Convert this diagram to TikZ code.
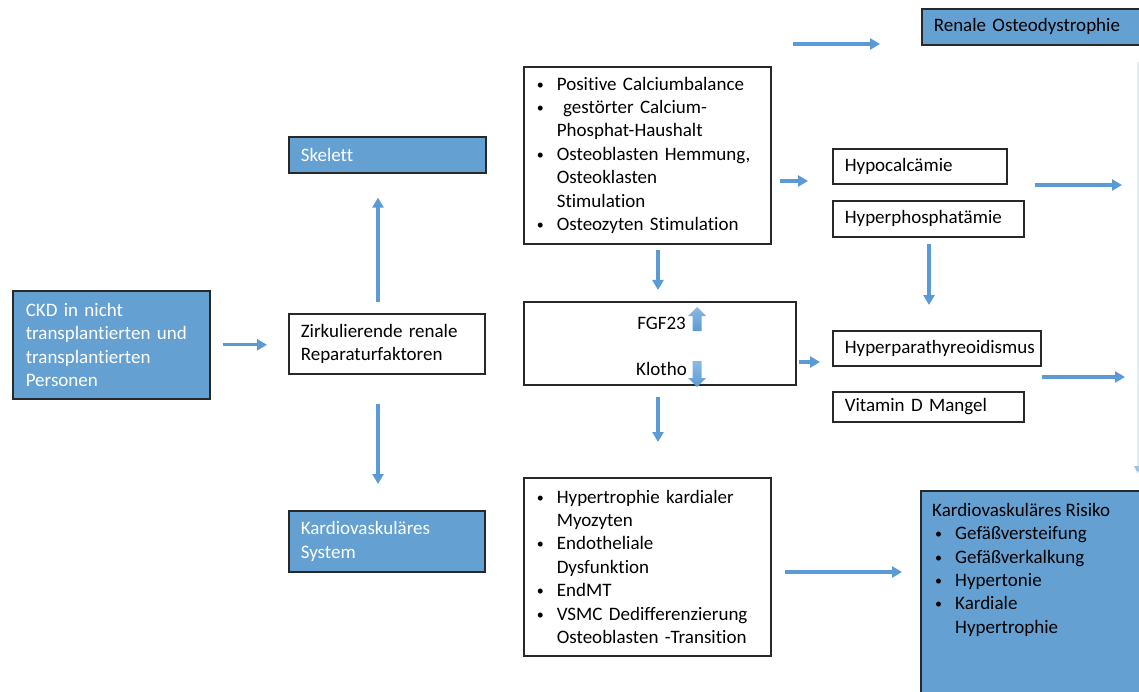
\documentclass[tikz,border=0pt]{standalone}
\usepackage{fontspec}
\setmainfont{Carlito}[Ligatures=NoCommon]
\usetikzlibrary{arrows.meta}

\definecolor{boxblue}{RGB}{100,161,210}
\definecolor{arrowblue}{RGB}{91,155,213}
\definecolor{boxline}{RGB}{40,40,40}
\definecolor{edgegray}{RGB}{232,237,242}

\newcommand{\bul}{\makebox[20pt][l]{\raisebox{1pt}{\fontsize{14}{14}\selectfont\textbullet}}}
\newcommand{\cont}{\hspace*{20pt}}

\tikzset{
  box/.style={draw=boxline, line width=1.6pt, anchor=north west, align=left,
    inner xsep=12pt, inner ysep=0pt, font=\fontsize{19}{23.4}\selectfont},
  bluebox/.style={box, fill=boxblue},
  whitebox/.style={box, fill=white},
  flow/.style={draw=arrowblue, line width=3.2pt, -{Triangle[length=10pt, width=11pt]}},
  updown/.style={top color=arrowblue!70, bottom color=arrowblue, draw=none},
}

\begin{document}
\begin{tikzpicture}[x=1pt, y=-1pt]
    \clip (0,0) rectangle (1139,692);
    \fill[white] (0,0) rectangle (1139,692);

    % left column
    \node[bluebox, text=white, text width=171pt, inner xsep=13pt, minimum height=108pt] (ckd) at (12,290) {CKD in nicht\\ transplantierten und\\ transplantierten\\ Personen};
    \node[bluebox, text=white, text width=173pt, minimum height=36pt] (skelett) at (288,136) {Skelett};
    \node[whitebox, text width=172pt, minimum height=60pt] (zirk) at (288,313) {Zirkulierende renale\\ Reparaturfaktoren};
    \node[bluebox, text=white, text width=172pt, minimum height=61pt] (kardio) at (288,510) {Kardiovaskuläres\\ System};

    % middle column
    \node[whitebox, text width=221pt, inner xsep=13pt, minimum height=177pt] (calc) at (523,66) {
        \bul Positive Calciumbalance\\
        \bul \ gestörter Calcium-\\
        \cont Phosphat-Haushalt\\
        \bul Osteoblasten Hemmung,\\
        \cont Osteoklasten\\
        \cont Stimulation\\
        \bul Osteozyten Stimulation};
    \node[whitebox, minimum width=272pt, minimum height=83pt] (fgf) at (523,301) {};
    \node[anchor=east, inner sep=0pt, font=\fontsize{19}{23.4}\selectfont] (fgflabel) at (686,323) {FGF23};
    \node[anchor=east, inner sep=0pt, font=\fontsize{19}{23.4}\selectfont] (klotho) at (687,369) {Klotho};
    \shade[updown] (697,307) -- (706,316) -- (701.5,316) -- (701.5,331) -- (692.5,331) -- (692.5,316) -- (688,316) -- cycle;
    \shade[updown] (697,387) -- (706,378) -- (701.5,378) -- (701.5,361) -- (692.5,361) -- (692.5,378) -- (688,378) -- cycle;
    \node[whitebox, text width=221pt, inner xsep=13pt, minimum height=178pt] (cardio) at (523,477) {
        \bul Hypertrophie kardialer\\
        \cont Myozyten\\
        \bul Endotheliale\\
        \cont Dysfunktion\\
        \bul EndMT\\
        \bul VSMC Dedifferenzierung\\
        \cont Osteoblasten -Transition};

    % right column
    \node[bluebox, text width=216pt, minimum height=36pt] (renal) at (921,8) {Renale Osteodystrophie};
    \node[whitebox, text width=150pt, minimum height=35pt] (hypo) at (832,148) {Hypocalcämie};
    \node[whitebox, text width=167pt, minimum height=36pt] (hyperphos) at (832,200) {Hyperphosphatämie};
    \node[whitebox, text width=184pt, minimum height=35pt] (hpt) at (832,330) {Hyperparathyreoidismus};
    \node[whitebox, text width=167pt, minimum height=30pt] (vitd) at (832,391) {Vitamin D Mangel};
    \node[bluebox, minimum width=240pt, minimum height=220pt] (risk) at (920,490) {};
    \node[anchor=north west, align=left, inner xsep=12pt, inner ysep=13pt, font=\fontsize{19}{23.4}\selectfont] (risktext) at (risk.north west) {
        Kardiovaskuläres Risiko\\
        \hspace*{3pt}\bul Gefäßversteifung\\
        \hspace*{3pt}\bul Gefäßverkalkung\\
        \hspace*{3pt}\bul Hypertonie\\
        \hspace*{3pt}\bul Kardiale\\
        \hspace*{3pt}\cont Hypertrophie};

    % free arrow ends
    \coordinate (topstart) at (793,44);
    \coordinate (topend) at (880,44);
    \coordinate (edgeA) at (1122,185);
    \coordinate (edgeB) at (1125,377);
    \draw[edgegray, line width=2pt] (1137.5,62) -- (1137.5,466);
    \fill[arrowblue!60] (1134,466) -- (1141,466) -- (1137.5,473) -- cycle;

    % arrows
    \draw[flow] (topstart) -- (topend);
    \draw[flow, shorten <=12pt, shorten >=21pt] (ckd.east) -- (ckd.east -| zirk.west);
    \draw[flow, shorten <=11pt, shorten >=24pt] (zirk.north -| 378,0) -- (skelett.south -| 378,0);
    \draw[flow, shorten <=29pt, shorten >=26pt] (zirk.south -| 378,0) -- (kardio.north -| 378,0);
    \draw[flow, shorten <=5pt, shorten >=11pt] (calc.south -| 658,0) -- (fgf.north -| 658,0);
    \draw[flow, shorten <=11pt, shorten >=35pt] (fgf.south -| 658,0) -- (cardio.north -| 658,0);
    \draw[flow, shorten <=8pt, shorten >=24pt] (calc.east |- 0,181) -- (hypo.west |- 0,181);
    \draw[flow, shorten <=2pt, shorten >=12pt] (fgf.east |- 0,362) -- (hpt.west |- 0,362);
    \draw[flow, shorten <=13pt, shorten >=18pt] (cardio.east |- 0,572) -- (risk.west |- 0,572);
    \draw[flow, shorten <=6pt, shorten >=25pt] (hyperphos.south -| 929,0) -- (hpt.north -| 929,0);
    \draw[flow, shorten <=10pt] (hyperphos.east |- 0,185) -- (edgeA);
    \draw[flow] (hpt.east |- 0,377) -- (edgeB);
\end{tikzpicture}
\end{document}
